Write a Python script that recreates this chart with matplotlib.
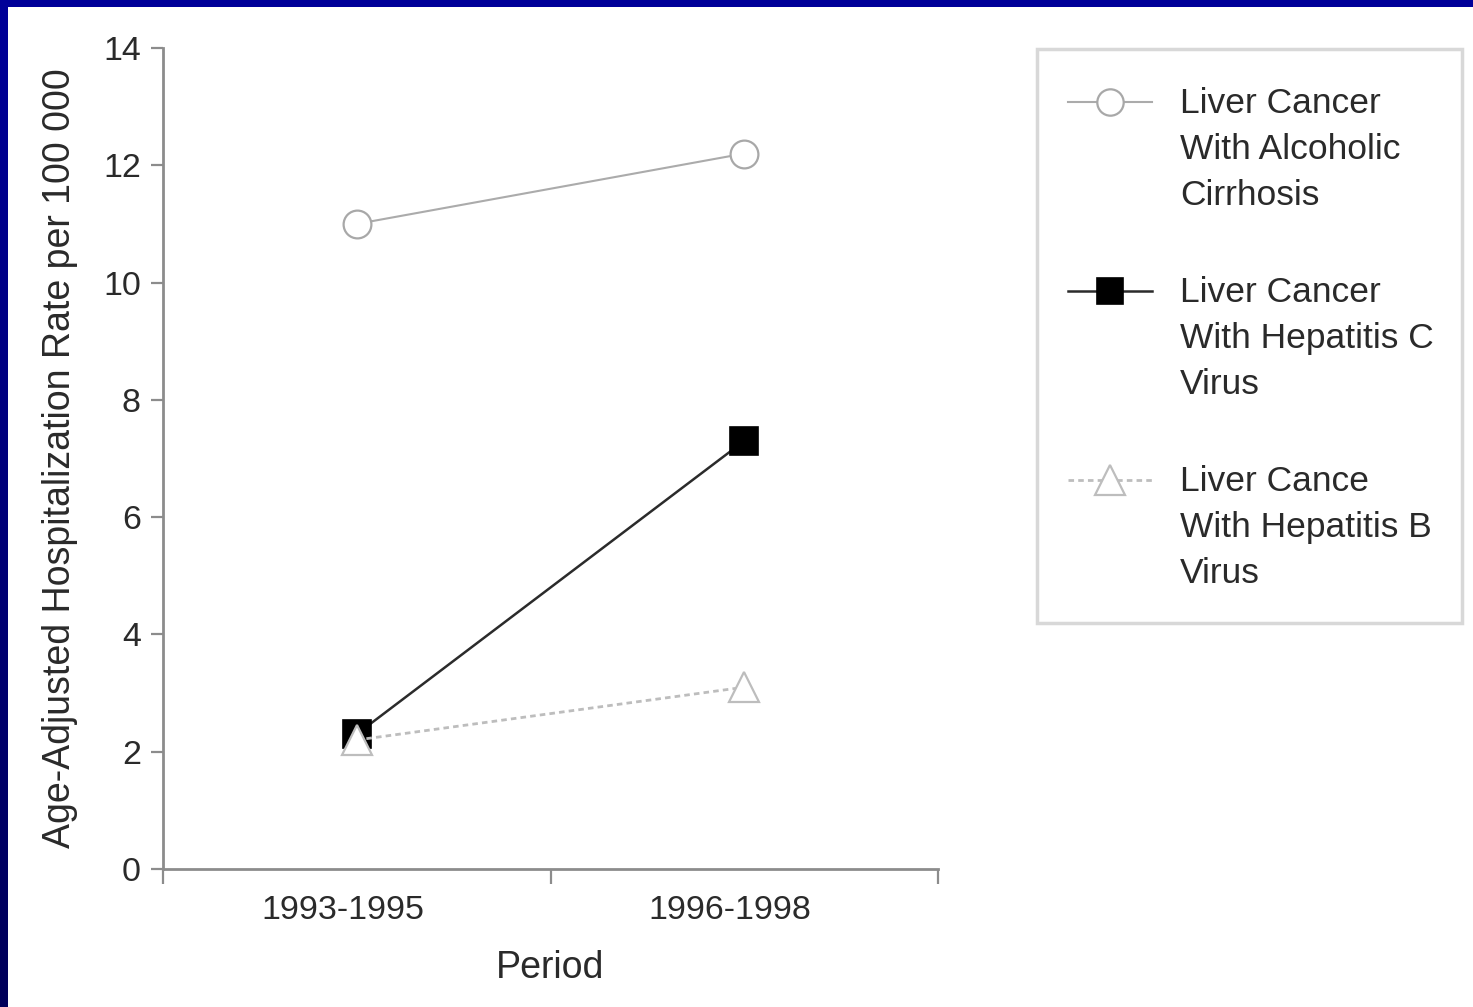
import numpy as np
import matplotlib
matplotlib.use("Agg")
import matplotlib.pyplot as plt
import matplotlib.transforms as mtransforms
from matplotlib.lines import Line2D
from matplotlib.patches import Rectangle

# data
periods = ["1993-1995", "1996-1998"]
alcoholic = [11.0, 12.2]
hep_c = [2.3, 7.3]
hep_b = [2.2, 3.1]
labels = [
    "Liver Cancer\nWith Alcoholic\nCirrhosis",
    "Liver Cancer\nWith Hepatitis C\nVirus",
    "Liver Cance\nWith Hepatitis B\nVirus",
]
y_ticks = [0, 2, 4, 6, 8, 10, 12, 14]

W, H = 1473, 1007
plt.rcParams['font.family'] = ['Liberation Sans', 'DejaVu Sans']
TXT = "#2a2a2a"
AX = "#8c8c8c"

fig = plt.figure(figsize=(W / 100, H / 100), dpi=100)
fig.patch.set_facecolor("white")


def px_rect(x0, y0, x1, y1):
    """ pixel box (top-left origin) -> figure fraction rect """
    return [x0 / W, 1 - y1 / H, (x1 - x0) / W, (y1 - y0) / H]


ax = fig.add_axes(px_rect(163, 48, 938, 869))
x = np.array([0.5, 1.5])

styles = [
    dict(data=alcoholic, color="#ababab", ls="-", lw=1.5, marker="o", mfc="white", mec="#a8a8a8", ms=20, mew=1.6),
    dict(data=hep_c, color="#2b2b2b", ls="-", lw=1.8, marker="s", mfc="black", mec="black", ms=20, mew=1.2),
    dict(data=hep_b, color="#bdbdbd", ls=(0, (2, 1.5)), lw=2.0, marker="^", mfc="white", mec="#bdbdbd", ms=22, mew=1.6),
]
# the triangle sits over the square at the first period, as in the reference
for st in styles:
    ax.plot(x, st["data"], color=st["color"], ls=st["ls"], lw=st["lw"], marker=st["marker"],
            mfc=st["mfc"], mec=st["mec"], ms=st["ms"], mew=st["mew"], clip_on=False)

ax.set_xlim(0, 2)
ax.set_ylim(0, 14)
ax.set_yticks(y_ticks)
ax.set_xticks([0, 1, 2])
ax.set_xticklabels([])
ax.set_xticks(x, minor=True)
ax.set_xticklabels(periods, minor=True)
ax.tick_params(axis="x", which="minor", length=0, pad=19, labelsize=24.5, labelcolor=TXT)
ax.tick_params(axis="x", which="major", length=11, width=1.6, color=AX, direction="out")
ax.tick_params(axis="y", length=9, width=1.6, color=AX, pad=7, labelsize=24.5, labelcolor=TXT)
# period labels sit a little left of their points in the original
shift = mtransforms.ScaledTranslation(-14 / 100, 0, fig.dpi_scale_trans)
for lbl in ax.get_xticklabels(minor=True):
    lbl.set_transform(lbl.get_transform() + shift)
for s in ["top", "right"]:
    ax.spines[s].set_visible(False)
for s in ["left", "bottom"]:
    ax.spines[s].set_color(AX)
    ax.spines[s].set_linewidth(2.0)

ax.set_xlabel("Period", fontsize=27, color=TXT, labelpad=17)
ax.set_ylabel("Age-Adjusted Hospitalization Rate per 100 000", fontsize=27, color=TXT, labelpad=18)

# legend drawn by hand so the key sits beside the first text line
lax = fig.add_axes([0, 0, 1, 1], facecolor="none")
lax.set_xlim(0, W)
lax.set_ylim(H, 0)
lax.axis("off")
lax.add_patch(Rectangle((1037, 49), 425, 574, fill=False, ec="#d8d8d8", lw=2.5))
row_y = [102, 291, 480]
for st, lab, yy in zip(styles, labels, row_y):
    lax.add_line(Line2D([1068, 1152], [yy, yy], color=st["color"], ls=st["ls"], lw=st["lw"]))
    lax.add_line(Line2D([1110], [yy], marker=st["marker"], mfc=st["mfc"], mec=st["mec"],
                        ms=st["ms"] * 0.95, mew=st["mew"], ls="none"))
    lax.text(1180, yy - 15, lab, fontsize=25.5, color=TXT, va="top", ha="left", linespacing=1.5)

# blue frame on top and left edges
fig.patches.append(Rectangle((0, 1 - 7 / H), 1, 7 / H, transform=fig.transFigure,
                             facecolor="#000099", edgecolor="none", zorder=10))
grad = np.linspace(0, 1, 256).reshape(-1, 1)
gax = fig.add_axes(px_rect(0, 0, 8, H))
gax.imshow(grad, aspect="auto", cmap=matplotlib.colors.LinearSegmentedColormap.from_list(
    "frame", ["#000099", "#00005a"]), extent=[0, 1, 0, 1], origin="upper")
gax.axis("off")

fig.savefig("out.png", dpi=100)
